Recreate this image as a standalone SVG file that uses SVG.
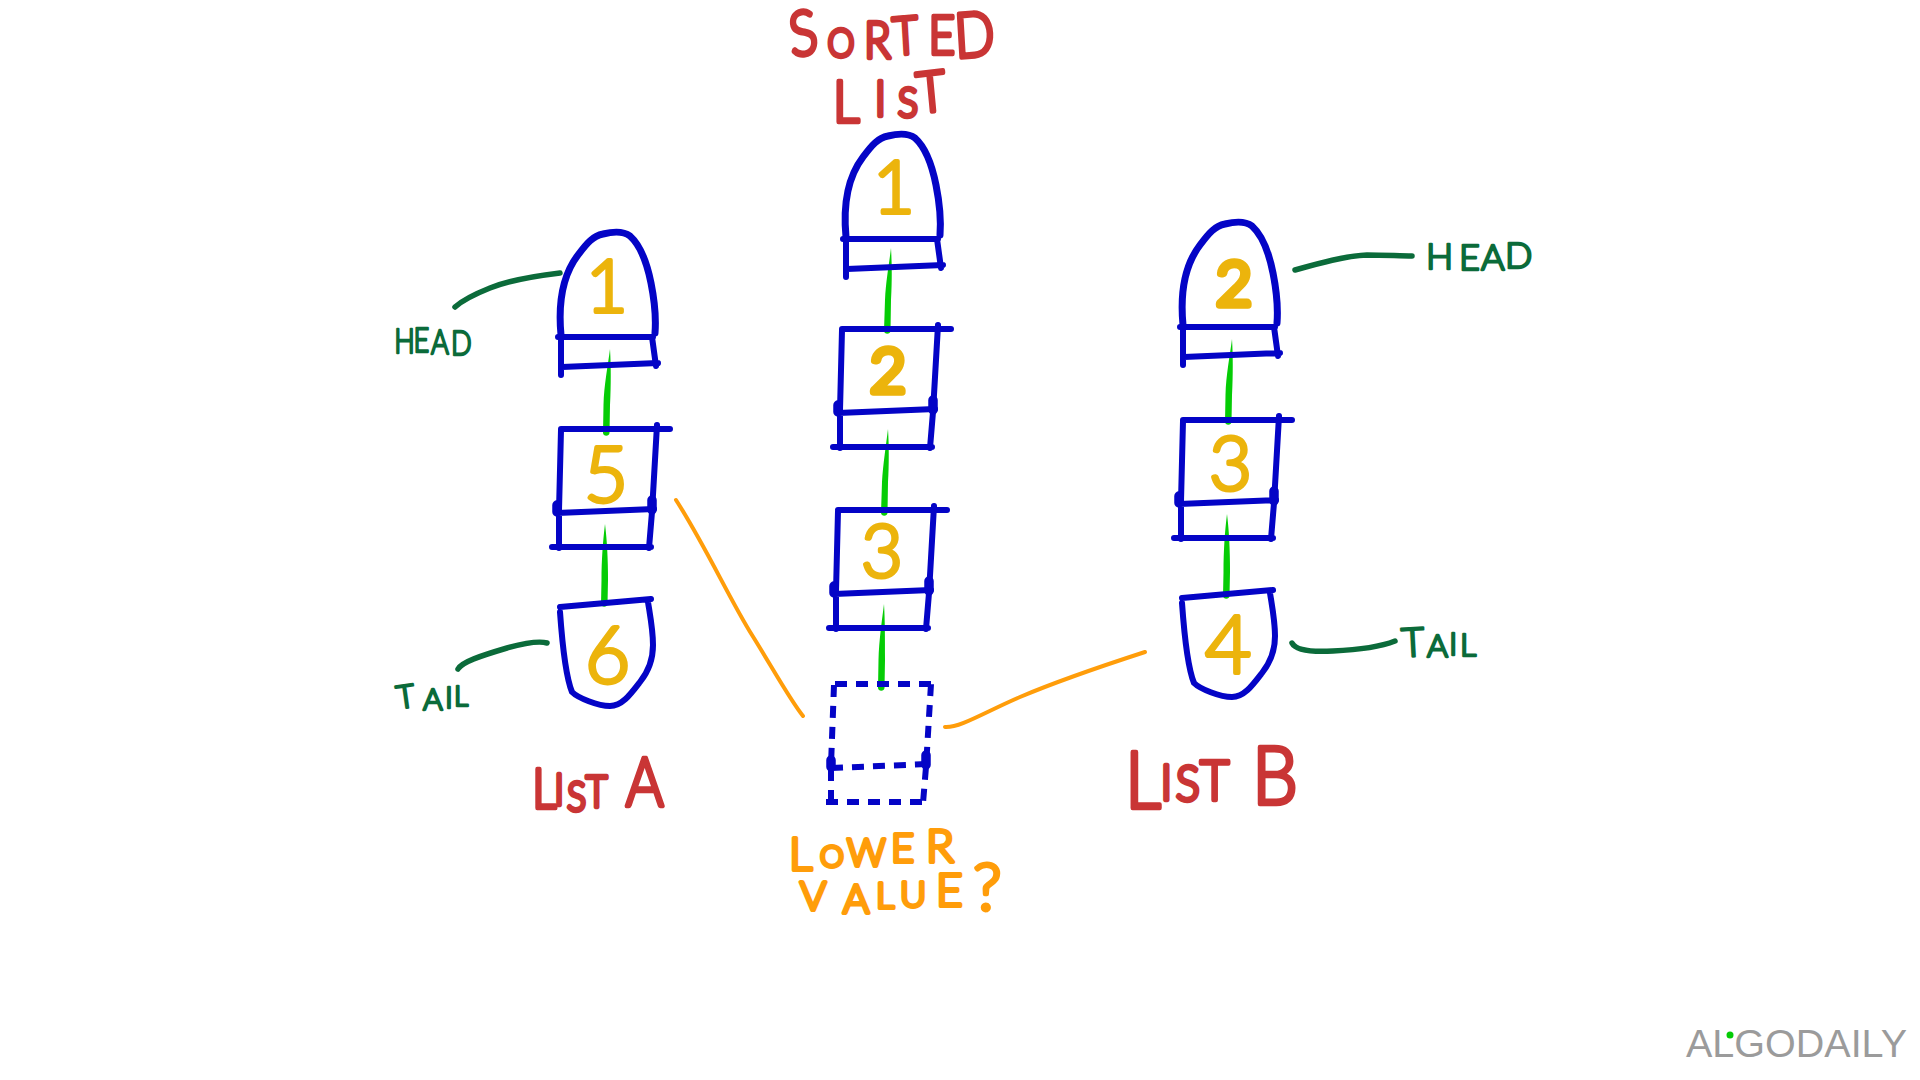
<svg xmlns="http://www.w3.org/2000/svg" width="1920" height="1080" viewBox="0 0 1920 1080">
<style>
text{font-family:Lato,"Liberation Sans",sans-serif;font-weight:300;stroke-linejoin:round;stroke-linecap:round}
.b{fill:none;stroke:#0404c6;stroke-width:6;stroke-linecap:round;stroke-linejoin:round}
.dash{stroke-dasharray:12 9;stroke-linecap:butt}
.blob{fill:none;stroke:#0404c6;stroke-width:9.5;stroke-linecap:round}
.c{fill:#05cc05}
.o{fill:none;stroke:#ff9d0a;stroke-width:4;stroke-linecap:round}
.g{fill:none;stroke:#0b6b3a;stroke-width:5.5;stroke-linecap:round}
.red{fill:#c93535;stroke:#c93535;stroke-width:4.5}
.org{fill:#ff9d0a;stroke:#ff9d0a;stroke-width:4}
.dg{fill:#0b6b3a;stroke:#0b6b3a;stroke-width:2.4}
.dig{fill:#ecb40c;stroke:#ecb40c;stroke-width:4}
.dig2{fill:#ecb40c;stroke:#ecb40c;stroke-width:7.5}
#logo text{font-family:"Liberation Sans",Arial,sans-serif;font-weight:400}
</style>
<defs>
<g id="dome">
<path class="b" style="stroke-width:7" d="M846 237C843 205 847 178 863 157C872 145 878 138 888 136C896 134 907 132 915 138C925 147 932 165 936 185C940 205 941 222 940 235"/>
<path class="b" d="M843 239H938M846 240V277M847 269L943 265M937 239L941 268"/>
</g>
<g id="square">
<path class="b" d="M842 329H951M842 330L840 410V448M938 325L933 412L930 448M838 413L935 409M833 447H932"/>
<path class="blob" d="M838 405V412M933 400V410"/>
</g>
<g id="tail">
<path class="b" d="M560 607L651 599M560 612C562 640 565 675 572 692C578 698 598 706 610 706C622 706 630 695 640 682C648 672 653 660 653 645C653 630 650 615 648 602"/>
</g>
</defs>
<rect width="1920" height="1080" fill="#fff"/>
<g id="connectors">
<path class="c" d="M891 248C889 265 886 280 885 300L884 331A3.3 3.3 0 0 0 890.500 331L891 300C892 280 892 265 891 248Z"/>
<path class="c" d="M888 429C886 445 883 465 882 482L881 513A3.3 3.3 0 0 0 887.500 513L888 482C889 465 889 445 888 429Z"/>
<path class="c" d="M884 604C882 620 879 640 878.500 660L878 688A3.3 3.3 0 0 0 884.500 688L885 660C885 640 885 620 884 604Z"/>
<path class="c" d="M610 349C608 365 604 385 603.500 405L603 433A3.300 3.300 0 0 0 609.500 433L610 405C611 385 611 365 610 349Z"/>
<path class="c" d="M605 524C603 540 601.500 560 601.500 580L601 604A3.300 3.300 0 0 0 607.500 604L608 580C608 560 607 540 605 524Z"/>
<path class="c" d="M1232 339C1230 355 1226 375 1225.500 395L1225 422A3.300 3.300 0 0 0 1231.500 422L1232 395C1233 375 1233 355 1232 339Z"/>
<path class="c" d="M1227 514C1225 530 1223.500 550 1223.500 572L1223 596A3.300 3.300 0 0 0 1229.500 596L1230 572C1230 550 1229 530 1227 514Z"/>
<path class="o" d="M676 500C705 545 730 600 752 635C772 667 790 700 803 716"/>
<path class="o" d="M945 727C960 728 985 712 1020 697C1060 680 1105 665 1145 652"/>
<path class="g" d="M455 307C465 298 480 292 490 288C510 280 535 276 560 273"/>
<path class="g" d="M458 669C462 662 480 656 507 648C525 643 540 641 547 643"/>
<path class="g" d="M1295 270C1320 263 1345 256 1367 255C1385 255 1400 256 1412 256"/>
<path class="g" d="M1292 643C1296 651 1315 652 1333 651C1355 650 1380 647 1395 641"/>
</g>
<g id="node-sorted-1"><use href="#dome"/><text class="dig" x="873" y="213" font-size="72">1</text></g>
<g id="node-sorted-2"><use href="#square"/><text class="dig2" x="870" y="392" font-size="62">2</text></g>
<g id="node-sorted-3"><use href="#square" transform="translate(-4 181)"/><text class="dig" x="861" y="577" font-size="72">3</text></g>
<g id="node-sorted-new" transform="translate(-7 355)">
<path class="b dash" d="M842 329H942M841 330L838 410V448M938 329L933 412L930 448M838 413L935 409M833 447H932"/>
<path class="blob" d="M838 405V412M933 400V410"/>
</g>
<g id="node-a-1"><use href="#dome" transform="translate(-285 98)"/><text class="dig" x="586" y="312" font-size="72">1</text></g>
<g id="node-a-5"><use href="#square" transform="translate(-281 100)"/><text class="dig" x="584" y="502" font-size="76">5</text></g>
<g id="node-a-6"><use href="#tail"/><text class="dig" x="585" y="683" font-size="78">6</text></g>
<g id="node-b-2"><use href="#dome" transform="translate(337 88)"/><text class="dig2" x="1216" y="305" font-size="62">2</text></g>
<g id="node-b-3"><use href="#square" transform="translate(341 91)"/><text class="dig" x="1209" y="490" font-size="74">3</text></g>
<g id="node-b-4"><use href="#tail" transform="translate(622 -9)"/><text class="dig" x="1205" y="673" font-size="80">4</text></g>
<g id="labels">
<text class="red" transform="translate(790 0) scale(.85 1)"><tspan x="2" y="57" font-size="62" rotate="-8">S</tspan><tspan x="44" y="57" font-size="40">O</tspan><tspan x="87" y="58" font-size="52">R</tspan><tspan x="122" y="55" font-size="52" rotate="-4">T</tspan><tspan x="163" y="54" font-size="54">E</tspan><tspan x="195" y="58" font-size="62" rotate="-4">D</tspan></text>
<text class="red" transform="translate(833 0) scale(.9 1)"><tspan x="0" y="122" font-size="58">L</tspan><tspan x="46" y="116" font-size="50">I</tspan><tspan x="72" y="117" font-size="42">S</tspan><tspan x="95" y="113" font-size="56" rotate="-6">T</tspan></text>
<text class="red" transform="translate(533 0) scale(.85 1)"><tspan x="-1" y="808" font-size="56">L</tspan><tspan x="25" y="805" font-size="44">I</tspan><tspan x="40" y="811" font-size="42">S</tspan><tspan x="62" y="807" font-size="44">T</tspan><tspan x="109" y="806" font-size="68">A</tspan></text>
<text class="red" transform="translate(1128 0) scale(.9 1)"><tspan x="-3" y="808" font-size="78">L</tspan><tspan x="36" y="800" font-size="50">I</tspan><tspan x="53" y="801" font-size="50">S</tspan><tspan x="80" y="800" font-size="56">T</tspan><tspan x="138" y="804" font-size="80">B</tspan></text>
<text class="dg" transform="translate(395 0) scale(.8 1)"><tspan x="-1" y="353" font-size="34">H</tspan><tspan x="23" y="352" font-size="34">E</tspan><tspan x="45" y="354" font-size="34">A</tspan><tspan x="70" y="355" font-size="34">D</tspan></text>
<text class="dg"><tspan x="398" y="709" font-size="32" rotate="-8">T</tspan><tspan x="423" y="710" font-size="30">A</tspan><tspan x="445" y="708" font-size="30">I</tspan><tspan x="454" y="706" font-size="28">L</tspan></text>
<text class="dg"><tspan x="1426" y="269" font-size="36">H</tspan><tspan x="1459" y="270" font-size="36">E</tspan><tspan x="1481" y="270" font-size="36">A</tspan><tspan x="1505" y="268" font-size="36">D</tspan></text>
<text class="dg"><tspan x="1402" y="657" font-size="40" rotate="-3">T</tspan><tspan x="1427" y="657" font-size="32">A</tspan><tspan x="1449" y="655" font-size="32">I</tspan><tspan x="1460" y="656" font-size="32">L</tspan></text>
<text class="org"><tspan x="789" y="870" font-size="46">L</tspan><tspan x="820" y="867" font-size="30">O</tspan><tspan x="847" y="866" font-size="38">W</tspan><tspan x="891" y="862" font-size="40">E</tspan><tspan x="926" y="862" font-size="46">R</tspan></text>
<text class="org"><tspan x="800" y="910" font-size="40">V</tspan><tspan x="843" y="913" font-size="40">A</tspan><tspan x="876" y="908" font-size="36">L</tspan><tspan x="900" y="907" font-size="36">U</tspan><tspan x="936" y="906" font-size="46">E</tspan><tspan x="973" y="910" font-size="66">?</tspan></text>
</g>
<g id="logo">
<text x="1686" y="1057" font-size="39.500" fill="#9b9b9b">ALGODAILY</text>
<circle cx="1730" cy="1035" r="3.5" fill="#05cc05"/>
</g>
</svg>
